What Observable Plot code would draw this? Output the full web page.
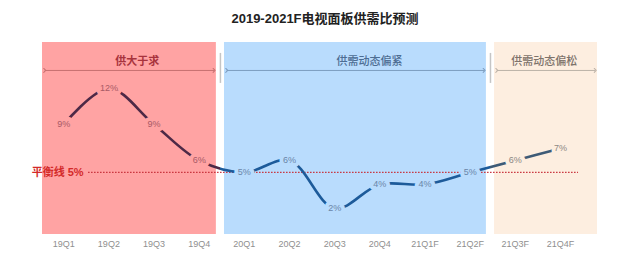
<!DOCTYPE html>
<html><head><meta charset="utf-8">
<script src="https://cdn.jsdelivr.net/npm/d3@7"></script>
<script src="https://cdn.jsdelivr.net/npm/@observablehq/plot@0.6"></script>
<style>body{margin:0;background:#fff;}</style>
</head><body><div id="chart"></div>
<script>
const title = "2019-2021F电视面板供需比预测";
const categories = ["19Q1","19Q2","19Q3","19Q4","20Q1","20Q2","20Q3","20Q4","21Q1F","21Q2F","21Q3F","21Q4F"];
const values = [9, 12, 9, 6, 5, 6, 2, 4, 4, 5, 6, 7];

const regionNames = ["供大于求", "供需动态偏紧", "供需动态偏松"];
const regionStart = [-0.47, 3.56, 9.54];
const regionEnd = [3.38, 9.36, 11.82];
const regionLabelAt = [1.63, 6.77, 10.64];
const regionFill = ["#ffa3a3", "#b9dcfd", "#fdeee0"];
const regionText = ["#a8333d", "#4d6d93", "#7d736b"];
const regionArrow = ["#c77070", "#7d9dc0", "#bcb2a8"];
const regionBold = ["bold", "500", "500"];
const lineColors = ["#4d2946", "#1d5b9a", "#3e5b77"];
const labelColors = ["#a85a66", "#6a86a8", "#8c8884"];
const separatorsAt = [3.47, 9.45];

const balanceValue = 5;
const balanceLabel = "平衡线 5%";
const balanceFrom = 0.55, balanceTo = 11.4;

const regionOf = i => regionStart.findIndex((s, k) => i >= s && i <= regionEnd[k]);
const pts = categories.map((c, i) => ({i, c, v: values[i], r: regionOf(i)}));
const regions = regionNames.map((name, k) => ({name, k, x1: regionStart[k], x2: regionEnd[k], lx: regionLabelAt[k]}));

const font = "'Liberation Sans', 'Noto Sans CJK SC', sans-serif";

const plot = Plot.plot({
  width: 633, height: 260,
  marginLeft: 42, marginRight: 36, marginTop: 42, marginBottom: 26,
  style: {fontFamily: font, background: "white", overflow: "visible"},
  x: {type: "linear", domain: [-0.47, 11.82], axis: null},
  y: {domain: [-0.17, 15.83], axis: null},
  marks: [
    Plot.rect(regions, {x1: "x1", x2: "x2", fill: d => regionFill[d.k]}),
    Plot.ruleX(separatorsAt, {y1: 14.92, y2: 12.42, stroke: "#c5c5c5", strokeWidth: 1.5}),
    Plot.link(regions, {x1: d => d.x1 + 0.05, x2: d => d.x2 - 0.05, y1: 13.5, y2: 13.5,
      stroke: d => regionArrow[d.k], strokeWidth: 1, markerStart: "arrow", markerEnd: "arrow"}),
    ...regions.map(r => Plot.text([r], {x: "lx", y: 14.25, text: "name", fill: regionText[r.k],
      fontSize: 11, fontWeight: regionBold[r.k]})),
    Plot.ruleY([balanceValue], {x1: balanceFrom, x2: balanceTo, stroke: "#c8323c",
      strokeDasharray: "1.5,1.5", strokeWidth: 1.2}),
    Plot.text([balanceLabel], {x: 0.44, y: balanceValue, text: d => d, textAnchor: "end",
      fill: "#d42a2a", fontWeight: "bold", fontSize: 11}),
    Plot.line(pts, {x: "i", y: "v", curve: "catmull-rom", stroke: "url(#lineGrad)", strokeWidth: 2.6}),
    Plot.text(pts, {x: "i", y: "v", text: d => d.v + "%", fill: d => labelColors[d.r],
      stroke: d => regionFill[d.r], strokeWidth: 8, fontSize: 9}),
    Plot.text(pts, {x: "i", text: "c", frameAnchor: "bottom", dy: 12, fill: "#8f8f8f", fontSize: 9}),
    Plot.text([title], {frameAnchor: "top", lineAnchor: "middle", dy: -24, dx: 5, text: d => d,
      fontSize: 13, fontWeight: "bold", fill: "#222"})
  ]
});

const svg = d3.select(plot);
const defs = svg.insert("defs", ":first-child");
const grad = defs.append("linearGradient").attr("id", "lineGrad")
  .attr("gradientUnits", "userSpaceOnUse").attr("x1", 0).attr("x2", 633).attr("y1", 0).attr("y2", 0);
const b1 = 220 / 633, b2 = 490 / 633;
[[0, lineColors[0]], [b1, lineColors[0]], [b1, lineColors[1]], [b2, lineColors[1]], [b2, lineColors[2]], [1, lineColors[2]]]
  .forEach(([o, c]) => grad.append("stop").attr("offset", o).attr("stop-color", c));

document.getElementById("chart").appendChild(plot);
</script>
</body></html>
